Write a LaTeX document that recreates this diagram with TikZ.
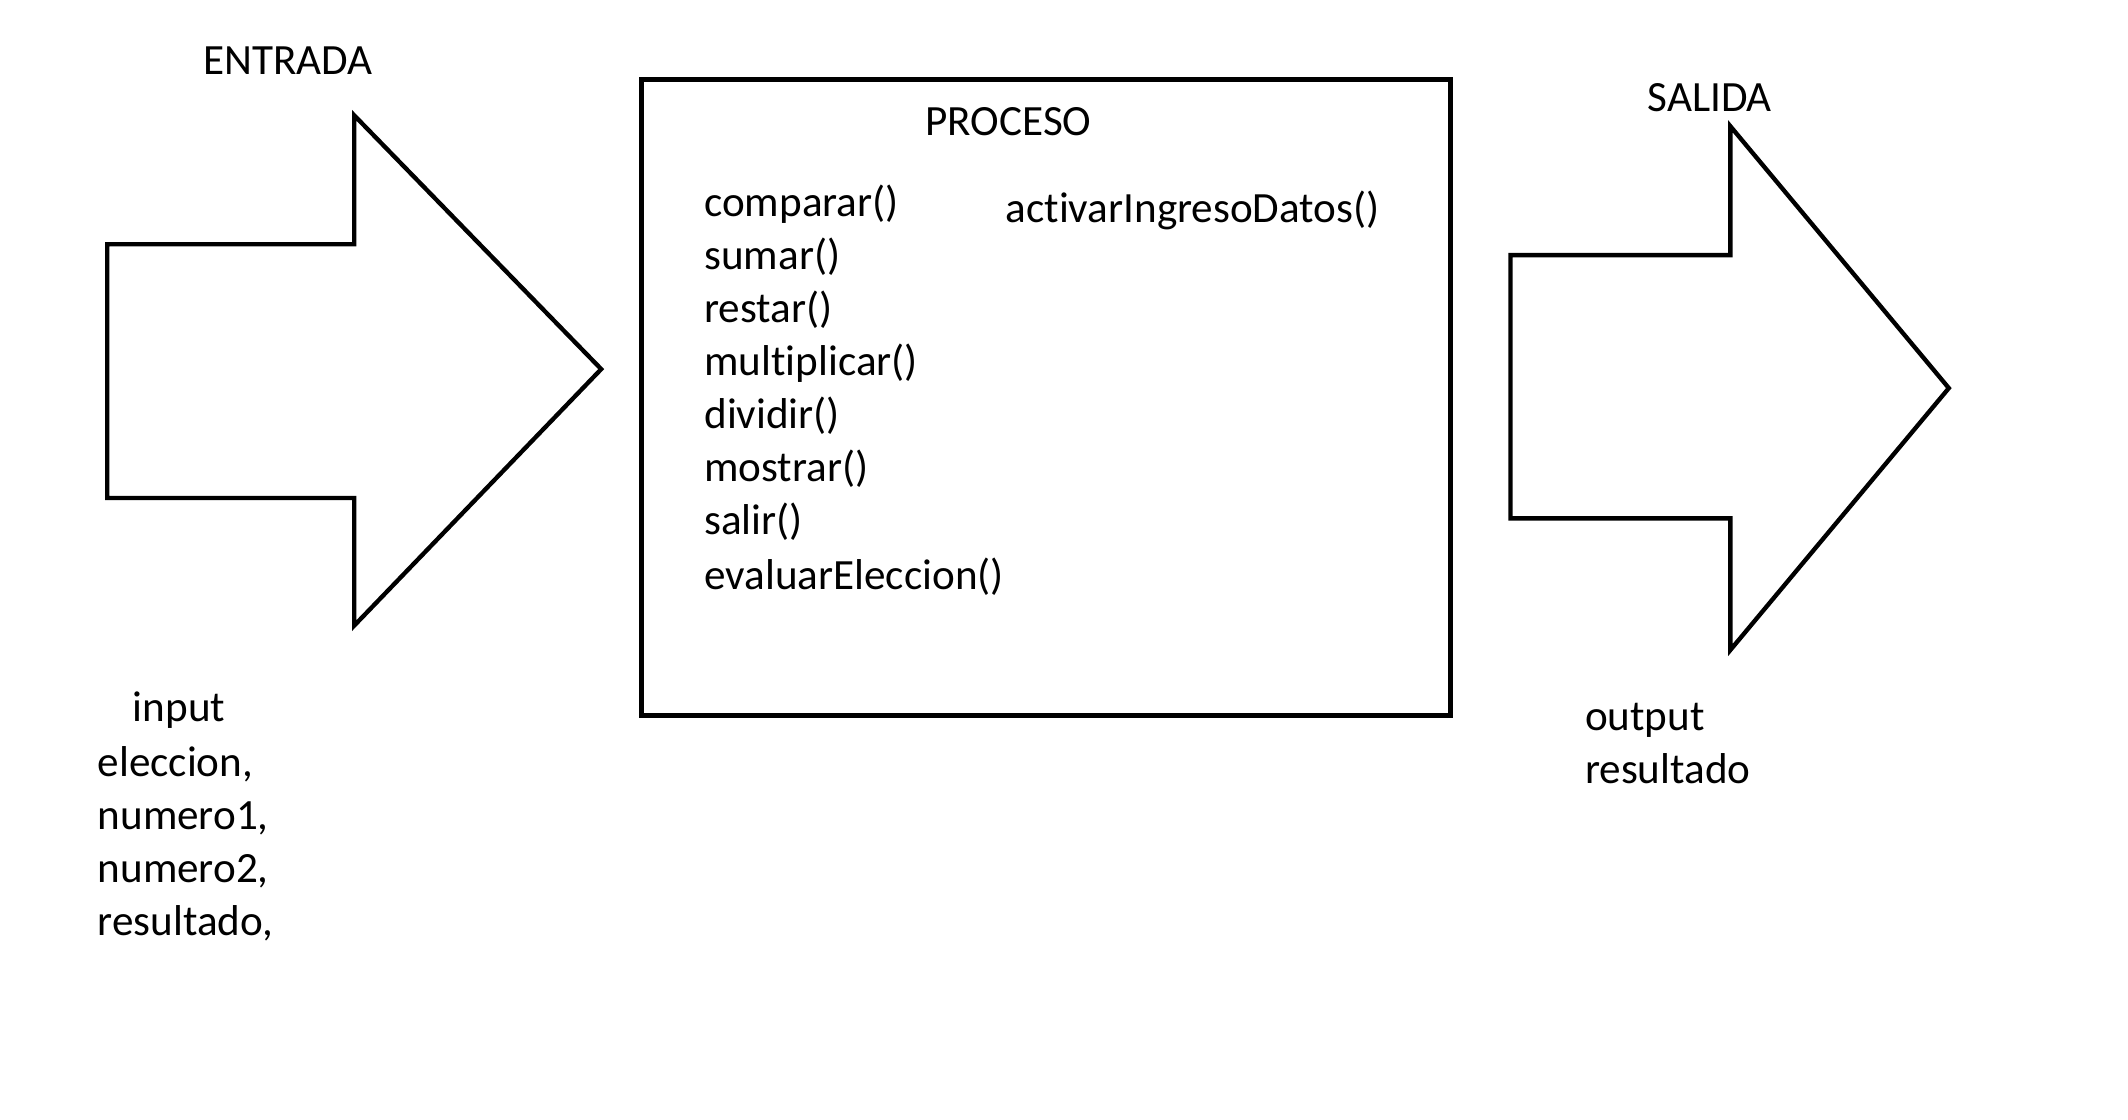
\documentclass[tikz,border=0pt]{standalone}
\usepackage{fontspec}
\setmainfont{Carlito}[Ligatures=NoCommon]
\begin{document}
\begin{tikzpicture}[x=0.00995cm,y=-0.00995cm,
  shapeline/.style={draw=black,line width=0.032cm,line join=miter},
  boxline/.style={draw=black,line width=0.037cm},
  lbl/.style={anchor=base west,inner sep=0pt,outer sep=0pt,font=\fontsize{9}{11.2}\selectfont}]
\useasboundingbox (0cm,0cm) rectangle (15.6cm,-8.204cm);
% left arrow (ENTRADA)
\draw[shapeline] (79,180) -- (261,180) -- (261,85) -- (443,272) -- (261,461) -- (261,367) -- (79,367) -- cycle;
% process box
\node[boxline,minimum width=5.930cm,minimum height=4.657cm,inner sep=0pt,anchor=north west] (proceso) at (471,57) {};
% right arrow (SALIDA)
\draw[shapeline] (1113,188) -- (1275,188) -- (1275,93) -- (1436,286) -- (1275,479) -- (1275,382) -- (1113,382) -- cycle;
% labels
\node[lbl] (entrada) at (150,55) {ENTRADA};
\node[lbl] (tproceso) at (682,99.5) {PROCESO};
\node[lbl] (salida) at (1214,82) {SALIDA};
\node[lbl] (m1) at (519,159.5) {comparar()};
\node[lbl] (m2) at (519,198.5) {sumar()};
\node[lbl] (m3) at (519,237.5) {restar()};
\node[lbl] (m4) at (519,276.5) {multiplicar()};
\node[lbl] (m5) at (519,315.5) {dividir()};
\node[lbl] (m6) at (519,354.5) {mostrar()};
\node[lbl] (m7) at (519,393.5) {salir()};
\node[lbl] (m8) at (519,434.5) {evaluarEleccion()};
\node[lbl] (activar) at (741,164) {activarIngresoDatos()};
\node[lbl] (input) at (98,531.5) {input};
\node[lbl] (e1) at (72,572.5) {eleccion,};
\node[lbl] (e2) at (72,611.5) {numero1,};
\node[lbl] (e3) at (72,650.5) {numero2,};
\node[lbl] (e4) at (72,689.5) {resultado,};
\node[lbl] (output) at (1168,538.5) {output};
\node[lbl] (resultado) at (1168,577.5) {resultado};
\end{tikzpicture}
\end{document}
